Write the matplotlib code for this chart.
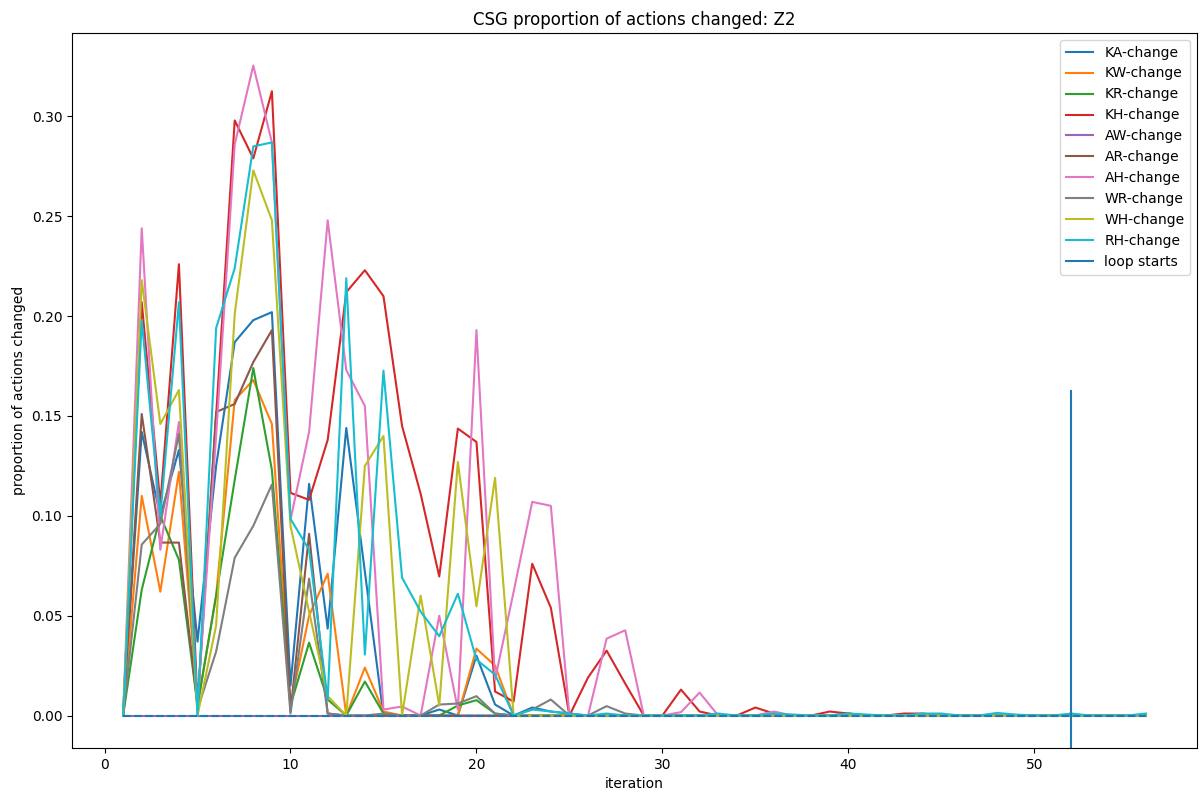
import numpy as np
import matplotlib
matplotlib.use("Agg")
import matplotlib.pyplot as plt

# iterations 1..56
iteration = list(range(1, 57))

ka_change = [0, 0.142, 0.100, 0.133, 0.037, 0.125, 0.187, 0.198, 0.202, 0.015,
             0.116, 0.0435, 0.144, 0.072, 0, 0, 0, 0.003, 0, 0.030,
             0.0055, 0, 0.004, 0.002, 0.001, 0, 0, 0, 0, 0,
             0, 0, 0, 0, 0, 0, 0, 0, 0, 0.001,
             0, 0, 0, 0, 0, 0, 0, 0, 0, 0,
             0, 0, 0, 0, 0, 0]
kw_change = [0, 0.110, 0.062, 0.122, 0.005, 0.060, 0.158, 0.168, 0.146, 0.005,
             0.050, 0.071, 0, 0.024, 0.002, 0, 0, 0, 0, 0.0335,
             0.025, 0, 0, 0, 0, 0, 0, 0, 0, 0,
             0, 0, 0, 0, 0, 0, 0, 0, 0, 0,
             0, 0, 0, 0, 0, 0, 0, 0, 0, 0,
             0, 0, 0, 0, 0, 0]
kr_change = [0, 0.063, 0.100, 0.078, 0.005, 0.060, 0.118, 0.174, 0.123, 0.005,
             0.0365, 0.008, 0, 0.017, 0.001, 0, 0, 0, 0.005, 0.0077,
             0.001, 0, 0, 0, 0, 0, 0, 0, 0, 0,
             0, 0, 0, 0, 0, 0, 0, 0, 0, 0,
             0, 0, 0, 0, 0, 0, 0, 0, 0, 0,
             0, 0, 0, 0, 0, 0]
kh_change = [0, 0.207, 0.106, 0.226, 0.005, 0.150, 0.298, 0.279, 0.3126, 0.1115,
             0.108, 0.138, 0.212, 0.223, 0.210, 0.145, 0.111, 0.0696, 0.1437, 0.137,
             0.012, 0.007, 0.076, 0.054, 0, 0.019, 0.0325, 0.016, 0, 0,
             0.013, 0.002, 0, 0, 0.004, 0.001, 0, 0, 0.002, 0.001,
             0, 0, 0.001, 0.001, 0, 0, 0, 0, 0, 0,
             0, 0, 0, 0, 0, 0]
aw_change = [0] * 56
ar_change = [0, 0.151, 0.0866, 0.0866, 0.005, 0.152, 0.156, 0.177, 0.193, 0.002,
             0.091, 0.001, 0, 0, 0, 0, 0, 0, 0, 0,
             0, 0, 0, 0, 0, 0, 0, 0, 0, 0,
             0, 0, 0, 0, 0, 0, 0, 0, 0, 0,
             0, 0, 0, 0, 0, 0, 0, 0, 0, 0,
             0, 0, 0, 0, 0, 0]
ah_change = [0, 0.244, 0.083, 0.147, 0.005, 0.140, 0.286, 0.3255, 0.287, 0.098,
             0.142, 0.248, 0.173, 0.155, 0.003, 0.0045, 0, 0.050, 0.003, 0.193,
             0.018, 0.062, 0.107, 0.105, 0, 0, 0.0385, 0.0427, 0, 0,
             0.0017, 0.0115, 0, 0, 0, 0.002, 0, 0, 0, 0,
             0, 0, 0, 0, 0, 0, 0, 0, 0, 0,
             0, 0, 0, 0, 0, 0]
wr_change = [0, 0.0856, 0.096, 0.141, 0.003, 0.032, 0.079, 0.095, 0.1157, 0.001,
             0.0686, 0.001, 0, 0, 0.001, 0, 0, 0.0055, 0.006, 0.0097,
             0.001, 0, 0.003, 0.008, 0, 0, 0.0047, 0.001, 0, 0,
             0, 0, 0, 0, 0, 0, 0, 0, 0, 0,
             0, 0, 0, 0, 0, 0, 0, 0, 0, 0,
             0, 0, 0, 0, 0, 0]
wh_change = [0, 0.218, 0.146, 0.163, 0, 0.045, 0.201, 0.273, 0.248, 0.095,
             0.052, 0.0097, 0, 0.125, 0.140, 0, 0.060, 0.005, 0.127, 0.0547,
             0.119, 0, 0, 0, 0, 0, 0, 0, 0, 0,
             0, 0, 0, 0, 0, 0, 0, 0, 0, 0,
             0, 0, 0, 0, 0, 0, 0, 0, 0, 0,
             0, 0, 0, 0, 0, 0]
rh_change = [0, 0.198, 0.100, 0.207, 0, 0.194, 0.224, 0.285, 0.287, 0.0985,
             0.083, 0.008, 0.219, 0.0305, 0.1727, 0.069, 0.052, 0.0397, 0.061, 0.028,
             0.0205, 0, 0.003, 0.002, 0.001, 0, 0.001, 0, 0, 0,
             0, 0, 0.001, 0, 0, 0.001, 0.0005, 0, 0, 0.001,
             0.0005, 0, 0, 0.001, 0.001, 0, 0, 0.0013, 0.0005, 0,
             0, 0.001, 0, 0, 0, 0.001]

series = {
    "KA-change": ka_change,
    "KW-change": kw_change,
    "KR-change": kr_change,
    "KH-change": kh_change,
    "AW-change": aw_change,
    "AR-change": ar_change,
    "AH-change": ah_change,
    "WR-change": wr_change,
    "WH-change": wh_change,
    "RH-change": rh_change,
}
loop_start = 52

fig, ax = plt.subplots(figsize=(12.04, 7.94), dpi=100)

for name, vals in series.items():
    ax.plot(iteration, vals, label=name)

# baseline (takes the next colour in the cycle -> C0)
ax.plot(iteration, np.zeros(len(iteration)), "--")

ax.axvline(loop_start, ymax=0.5, label="loop starts")

ax.set_title("CSG proportion of actions changed: Z2")
ax.set_xlabel("iteration")
ax.set_ylabel("proportion of actions changed")
ax.legend(loc="upper right")

plt.subplots_adjust(left=0.0598, right=0.9942, top=0.9584, bottom=0.0579)
plt.savefig("out.png", dpi=100)
